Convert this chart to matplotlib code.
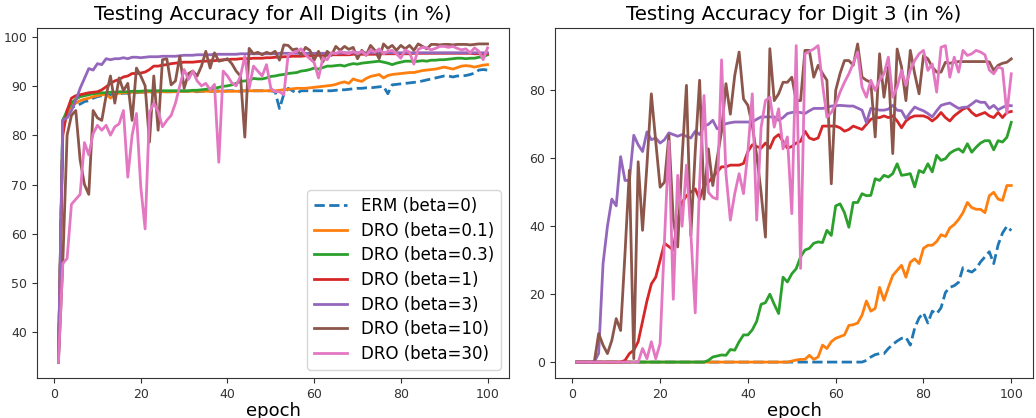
import matplotlib
matplotlib.use("Agg")
import matplotlib.pyplot as plt

epochs = list(range(1, 101))

labels = ['ERM (beta=0)', 'DRO (beta=0.1)', 'DRO (beta=0.3)', 'DRO (beta=1)',
          'DRO (beta=3)', 'DRO (beta=10)', 'DRO (beta=30)']
colors = ['#1f77b4', '#ff7f0e', '#2ca02c', '#d62728', '#9467bd', '#8c564b', '#e377c2']

# Testing accuracy for all digits (in %)
all_erm = [34, 83, 84.5, 85.5, 86, 86.3, 86.8, 87, 87.5, 87.8,
           88, 88, 88.2, 88.3, 88.4, 88.5, 88.5, 88.6, 88.6, 88.7,
           88.7, 88.7, 88.8, 88.8, 88.8, 88.8, 88.8, 88.9, 88.9, 88.9,
           88.9, 88.9, 88.8, 88.9, 88.9, 88.9, 88.9, 89, 88.9, 89,
           89, 89, 88.9, 89, 89, 89, 89, 89, 89, 89,
           88.8, 85.4, 88.3, 89.5, 89, 88.5, 89, 89, 89, 89,
           89, 89, 89, 89, 89.1, 89.2, 89.2, 89.3, 89.4, 89.5,
           89.5, 89.6, 89.6, 89.7, 89.8, 89.9, 88.4, 90.2, 90.3, 90.4,
           90.5, 90.6, 90.7, 90.8, 91, 91.2, 91.4, 91.6, 91.8, 92,
           92, 91.8, 92, 92, 92.1, 92.3, 92.6, 93.2, 93.3, 93.2]
all_dro01 = [34, 81, 84.5, 85.8, 86.5, 87, 87.3, 87.5, 87.8, 88,
             88.2, 88.3, 87.5, 88.4, 88.5, 88.6, 88.6, 88.7, 88.7, 88.7,
             88.7, 88.8, 88.8, 88.8, 88.8, 88.8, 88.8, 88.8, 88.9, 88.9,
             88.9, 88.9, 88.9, 88.9, 88.9, 88.9, 88.9, 88.9, 88.9, 88.9,
             88.9, 88.9, 88.9, 89, 89, 89, 89, 89, 89, 89,
             89, 89.1, 89.2, 89.3, 89.4, 89.5, 89.5, 89.5, 89.6, 89.7,
             89.8, 89.9, 90, 90.1, 90.3, 90.6, 90.8, 90.5, 91.4, 91.1,
             90.9, 91.5, 91.9, 92.1, 92.3, 91.6, 92.1, 92.3, 92.4, 92.5,
             92.6, 92.7, 92.7, 92.9, 93.1, 93.2, 93.3, 93.4, 93.6, 93.8,
             93.6, 93.4, 93.7, 94, 94.1, 94, 93.8, 94, 94.2, 94.3]
all_dro03 = [34, 83, 85, 86.5, 87.3, 87.8, 88, 88.2, 88.4, 88.5,
             88.6, 88.6, 88.7, 88.7, 88.8, 88.8, 88.8, 88.9, 88.9, 88.9,
             89, 89, 89, 89, 89, 89, 89, 89, 89, 89,
             89, 89.1, 89.1, 89.2, 89.3, 89.4, 89.5, 89.7, 89.9, 90,
             90.2, 90.5, 90.9, 91, 91.1, 91.5, 91.4, 91.4, 91.6, 91.9,
             92, 92.2, 92.3, 92.5, 92.6, 92.7, 93, 93.1, 93.3, 93.6,
             93.4, 93.7, 94, 94, 94.1, 94.2, 94, 94.3, 94.5, 94.4,
             94.6, 94.7, 94.8, 94.9, 95, 94.8, 94.6, 94.3, 94.6, 94.8,
             95, 95, 94.9, 95, 95.1, 95, 95.2, 95.2, 95.3, 95.3,
             95.4, 95.5, 95.6, 95.6, 95.5, 95.6, 95.6, 95.8, 95.9, 96.3]
all_dro1 = [35, 80, 85, 87.5, 88, 88.2, 88.4, 88.6, 88.7, 88.8,
            89.2, 89.8, 90.5, 91, 91.3, 91.8, 92, 92.5, 92.5, 92.6,
            92.8, 93.3, 94, 94, 94.2, 94.3, 94.5, 94.6, 94.7, 94.8,
            94.8, 94.8, 94.9, 95, 95, 95.1, 95.1, 95.2, 95.3, 95.3,
            95.4, 95.4, 95.5, 95.5, 95.5, 95.6, 95.6, 95.6, 95.7, 95.7,
            95.8, 95.8, 95.9, 95.9, 96, 96, 96, 96.1, 96.1, 96.2,
            96.2, 96.2, 96.2, 96.3, 96.3, 96.3, 96.3, 96.3, 96.4, 96.4,
            96.4, 96.4, 96.4, 96.4, 96.5, 96.5, 96.5, 96.5, 96.5, 96.5,
            96.5, 96.5, 96.6, 96.6, 96.6, 96.6, 96.6, 96.6, 96.6, 96.6,
            96.6, 96.6, 96.6, 96.6, 96.6, 96.6, 96.5, 96.5, 96.5, 96.5]
all_dro3 = [35, 83, 83.5, 85, 87, 89.5, 91.5, 93.5, 93.2, 94.5,
            94.3, 95.5, 95.3, 95.5, 95.5, 95.7, 95.5, 95.8, 95.8, 95.7,
            95.8, 95.9, 95.9, 95.9, 96, 96, 96, 96, 96.1, 96.2,
            96.2, 96.2, 96.3, 96.3, 96.3, 96.3, 96.4, 96.4, 96.4, 96.4,
            96.4, 96.4, 96.5, 96.5, 96.5, 96.5, 96.5, 96.5, 96.5, 96.5,
            96.5, 96.6, 96.6, 96.6, 96.6, 96.6, 96.6, 96.6, 96.6, 96.6,
            96.6, 96.6, 96.6, 96.6, 96.6, 96.6, 96.7, 96.7, 96.7, 96.7,
            96.7, 96.7, 96.7, 96.7, 96.7, 96.7, 96.7, 96.7, 96.7, 96.7,
            96.7, 96.7, 96.7, 96.7, 96.7, 96.7, 96.7, 96.7, 96.7, 96.7,
            96.7, 96.7, 96.7, 96.7, 96.7, 96.7, 96.7, 96.7, 96.7, 96.7]
all_dro10 = [34, 54, 80, 84, 85, 75, 70, 68, 85, 83.5,
             83, 88, 92, 86.5, 91.6, 89, 90.5, 83, 93.6, 92,
             90, 78.6, 92, 81, 95.3, 95.5, 90.2, 91, 96, 89.5,
             92.5, 93, 92, 94, 97, 93.6, 96.7, 95, 95.2, 95.5,
             94.5, 93, 92, 79.6, 97.6, 96.5, 96.8, 96.3, 96.8, 96.5,
             97, 95.2, 98.3, 98.2, 97.3, 97.5, 96.2, 97.8, 97.2, 95.2,
             97, 94.8, 97, 96.2, 98, 97.2, 98, 97.4, 97.8, 95.5,
             97.2, 96.2, 98.2, 97.2, 95.5, 98.5, 97.6, 98.2, 97.2, 98.2,
             97.5, 98.2, 97.2, 98.5, 98, 97.5, 98.4, 98.4, 98.3, 98.4,
             98.4, 98.3, 98.4, 98.4, 98.4, 98.3, 98.4, 98.5, 98.5, 98.5]
all_dro30 = [34, 54, 55, 66, 67, 68, 78.5, 76, 80.3, 82,
             81, 82, 80, 81.7, 82.3, 85, 71.5, 80, 84.4, 69.5,
             61, 84.5, 86.5, 84.8, 81.7, 83, 84, 86.5, 90, 93.3,
             91.3, 93, 91, 90, 90.5, 89.2, 90.3, 74.5, 93, 92,
             90.6, 90, 92, 96, 89.5, 94, 93, 92, 94.3, 89.5,
             88.8, 88.8, 88.2, 96.3, 96.7, 97, 97.5, 96.3, 95.5, 94.7,
             91.6, 95.6, 95.3, 96.7, 96.5, 97, 96.7, 96.5, 97, 96.5,
             97, 96.2, 97.3, 96.8, 97.5, 96.5, 97, 97.2, 96.5, 95.6,
             97.3, 96.8, 94.4, 97.4, 97.8, 97.7, 97.3, 97.6, 98, 98,
             97.8, 98, 97.6, 97.3, 97.5, 96.7, 97.7, 97, 95.3, 97.7]

# Testing accuracy for digit 3 (in %)
d3_erm = [0] * 66 + [0.5, 1.5, 2.2, 2.5, 2.5, 4, 5.2, 6.2, 7, 7.3,
                     5, 10, 13, 14.5, 11.5, 15, 14.2, 16, 20.5, 22,
                     22.5, 23.5, 27.8, 27, 26.5, 27.5, 29.5, 31, 32.5, 29,
                     34.5, 38, 40, 38.7]
d3_dro01 = [0] * 49 + [0.3, 0.6, 0.8, 0.8, 2, 0.8, 1.5, 5, 4, 6,
                       7, 7.5, 8, 10.8, 11, 11.5, 13.8, 18, 15, 15.8,
                       22, 18.2, 22, 25.5, 27, 28.5, 25, 29.4, 30.4, 29,
                       33.5, 34.4, 34.4, 35.5, 37.5, 37, 39.5, 40.5, 42, 44,
                       47, 45.5, 45, 45, 44, 49, 50, 48, 47.6, 52,
                       52]
d3_dro03 = [0] * 30 + [0.5, 1.5, 1.8, 2.1, 2, 3.7, 3.5, 6, 8, 8,
                       9.5, 12, 17, 17.5, 20, 17, 14.3, 25, 23.6, 26,
                       27.5, 31, 33, 33.5, 35, 35.4, 35.2, 38.8, 37.3, 46,
                       46.6, 44, 39.7, 47, 47, 49.6, 49, 49.1, 54, 53.5,
                       55, 54.5, 55.5, 58.4, 55, 55.2, 55.5, 51.6, 56.4, 55.8,
                       58.4, 56, 60.9, 59.4, 59.9, 61.5, 62.3, 62.8, 61.8, 64.3,
                       61.8, 63.3, 64.5, 65.2, 65.2, 62.5, 65.2, 64.8, 66.2, 70.6]
d3_dro1 = [0] * 11 + [0.5, 2.5, 3.5, 6, 12, 18, 23, 25, 30,
                      35, 34, 33, 42, 47, 49, 50, 51, 48, 52,
                      53, 54.5, 56, 57.5, 57.5, 58, 58, 58, 58.5, 62,
                      64, 63.5, 63, 64.5, 63, 66, 67, 65, 63, 63.5,
                      64.5, 65, 68, 66, 65.5, 66, 69.5, 69.5, 69.5, 69.5,
                      69, 68, 68.5, 69.5, 69, 68.5, 70, 71.5, 72, 72,
                      72.5, 72, 72.5, 71, 69, 71, 72, 72.5, 72.5, 72.5,
                      72, 71, 72, 73.5, 72, 71, 72.5, 73.5, 74.5, 75,
                      73.5, 72.5, 73, 73.5, 72.5, 72, 73.5, 72, 73.5, 73.8]
d3_dro3 = [0] * 5 + [2.6, 29, 40, 48, 46, 60.5, 53.5, 53.5, 66.8, 64,
                     62, 67.8, 65.5, 66, 64.5,
                     65.5, 67.5, 67, 66.5, 67, 66.5, 66, 68, 67, 69.5,
                     70, 71.2, 68.7, 69.5, 70.2, 70.5, 70.7, 70.7, 70.7, 70.7,
                     70.7, 71.5, 72.2, 72.2, 72.2, 72.2, 71.2, 72, 73.2, 73.5,
                     73.7, 73.5, 73.2, 74, 74.7, 74.7, 74.7, 75, 75.4, 75.5,
                     75.6, 75.5, 75.4, 75.4, 74.8, 74.2, 70.5, 74.7, 74.5, 74.2,
                     74.2, 74.5, 75.6, 74.2, 74, 71.7, 73.5, 75.1, 74.5, 74,
                     73.2, 72.2, 74, 75.6, 76, 76.3, 75.5, 74.7, 75, 75.1,
                     76, 77, 76.5, 76.5, 74.7, 75.6, 74.3, 75, 75.6, 75.5]
d3_dro10 = [0] * 5 + [8.4, 5, 2.5, 6.4, 12.8, 9.3, 31.9, 56.5, 1, 59,
                      38.8, 58, 79, 65, 51.5,
                      53, 66.8, 42, 33.9, 60, 81.5, 37.3, 62, 83, 48,
                      62.8, 52, 60, 68, 82, 73, 84.4, 91.3, 77.5, 75.6,
                      69.7, 60.9, 50, 36.8, 92.3, 77, 79, 82.4, 82.4, 83.9,
                      77, 77, 91.8, 91.8, 83.9, 87.4, 85, 83, 52.5, 80,
                      85, 88.8, 88.8, 87.4, 93.7, 83.9, 83, 82.4, 66.3, 90.8,
                      78, 86.9, 61.4, 92.2, 86.9, 77, 91.8, 84.9, 79, 90.3,
                      89.3, 86.9, 85.4, 85.4, 88.3, 88, 88.3, 88.5, 88.5, 88.5,
                      88.5, 88.5, 88.5, 88.5, 88.4, 85.9, 87.4, 88, 88.3, 89.3]
d3_dro30 = [0] * 15 + [4, 1, 6, 1, 5.5,
                       36, 65, 18.5, 55, 40, 58, 38, 14.5, 53, 78.5,
                       50, 48.5, 48, 89, 55.5, 41.8, 49.6, 55.5, 49.6, 62,
                       79, 41.8, 69, 77, 78, 69.2, 74.6, 62.8, 66.3, 43.7,
                       93.2, 27.6, 90.8, 91.5, 92.2, 93.2, 81.9, 72.1, 73.5, 76,
                       79.5, 82.4, 84.9, 88, 91.3, 81, 78, 83, 80, 83,
                       84.9, 89.8, 78, 81, 85.9, 81.5, 86, 88.8, 90.8, 91.8,
                       85.9, 87.8, 79.5, 92.7, 93.2, 83.9, 89.8, 85.4, 91.8, 90.3,
                       90.8, 91.8, 91.3, 90.5, 86, 84.9, 86.9, 86.4, 73.2, 84.9]

all_series = [all_erm, all_dro01, all_dro03, all_dro1, all_dro3, all_dro10, all_dro30]
d3_series = [d3_erm, d3_dro01, d3_dro03, d3_dro1, d3_dro3, d3_dro10, d3_dro30]

fig = plt.figure(figsize=(10.36, 4.18), dpi=100)
ax1 = fig.add_axes([0.0357, 0.0957, 0.4556, 0.8373])
ax2 = fig.add_axes([0.5357, 0.0957, 0.4614, 0.8373])

for ax, series in [(ax1, all_series), (ax2, d3_series)]:
    for i, ys in enumerate(series):
        style = '--' if i == 0 else '-'
        ax.plot(epochs, ys, style, color=colors[i], linewidth=2, label=labels[i])
    ax.tick_params(labelsize=9, colors='#333333')
    for s in ax.spines.values():
        s.set_color('#333333')
    ax.set_xlabel('epoch', fontsize=13, labelpad=1)

ax1.set_title('Testing Accuracy for All Digits (in %)', fontsize=14.2)
ax2.set_title('Testing Accuracy for Digit 3 (in %)', fontsize=14.2)
ax1.legend(loc='lower right', fontsize=12, labelspacing=0.4, handlelength=2)

fig.savefig('out.png', dpi=100)
